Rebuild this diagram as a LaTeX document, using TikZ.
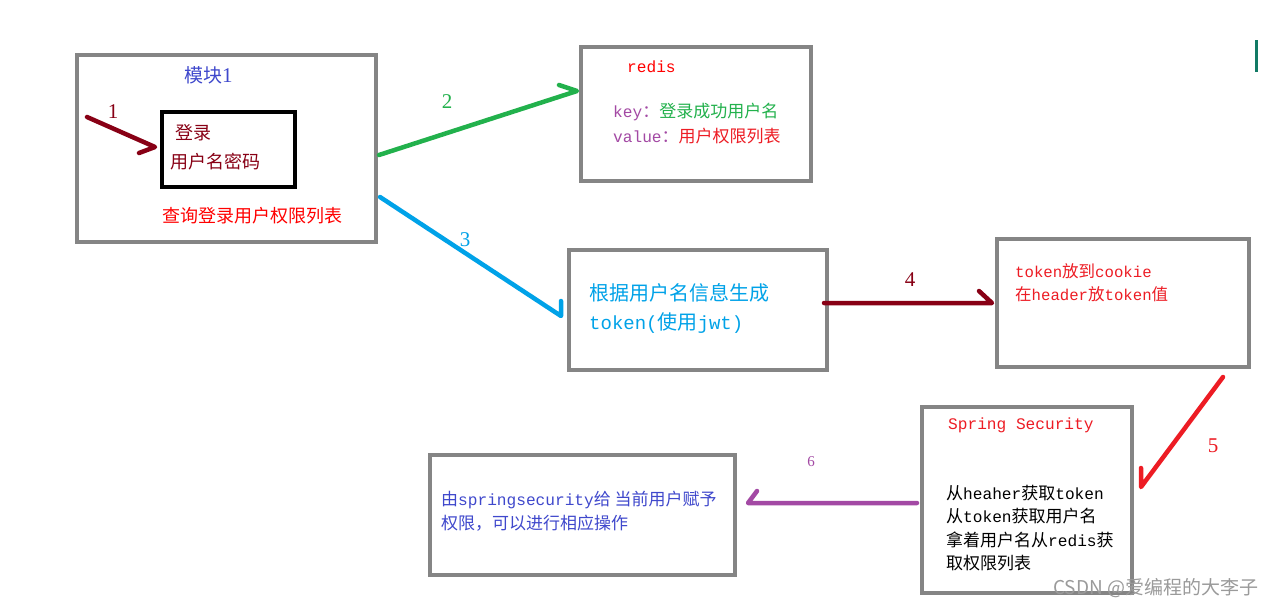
\documentclass[tikz,border=0pt]{standalone}
\usepackage{fontspec}
\setmainfont{Liberation Mono}[Scale=0.95]
\newfontfamily\zhfont{Noto Sans CJK SC}
\newfontfamily\numfont{Liberation Serif}
\newcommand\zh[1]{{\zhfont #1}}
\definecolor{boxgray}{HTML}{858585}
\definecolor{dred}{HTML}{880015}
\definecolor{dgreen}{HTML}{22B14C}
\definecolor{lblue}{HTML}{00A2E8}
\definecolor{bred}{HTML}{ED1C24}
\definecolor{purp}{HTML}{A349A4}
\definecolor{indigo}{HTML}{3F48CC}
\definecolor{teal2}{HTML}{117A65}
\definecolor{wmgray}{HTML}{9A9A9A}
\tikzset{
  gbox/.style={draw=boxgray, line width=4pt, inner sep=0pt},
  bbox/.style={draw=black, line width=4pt, inner sep=0pt},
  txt/.style={anchor=west, inner sep=0pt, font=\fontsize{17}{20}\selectfont},
  lbl/.style={inner sep=0pt, font=\numfont\fontsize{21}{22}\selectfont},
  arr/.style={line width=4.5pt, line cap=round, line join=round},
}
\begin{document}
\begin{tikzpicture}[x=1pt,y=-1pt]
\useasboundingbox[fill=white] (0,0) rectangle (1279,608);
% boxes
\node[gbox, minimum width=299pt, minimum height=187pt] (mod) at (226.5,148.5) {};
\node[bbox, minimum width=133pt, minimum height=75pt] (login) at (228.5,149.5) {};
\node[gbox, minimum width=230pt, minimum height=134pt] (redis) at (696,114) {};
\node[gbox, minimum width=258pt, minimum height=120pt] (jwt) at (698,310) {};
\node[gbox, minimum width=252pt, minimum height=128pt] (cookie) at (1123,303) {};
\node[gbox, minimum width=210pt, minimum height=186pt] (spring) at (1027,500) {};
\node[gbox, minimum width=305pt, minimum height=120pt] (result) at (582.5,515) {};
% module texts
\node[txt, text=indigo, font=\fontsize{19}{20}\selectfont] (modt) at (184,75) {\zh{模块}{\numfont\fontsize{21}{22}\selectfont 1}};
\node[txt, text=dred, font=\fontsize{18}{20}\selectfont] (l1) at (175,133) {\zh{登录}};
\node[txt, text=dred, font=\fontsize{18}{20}\selectfont] (l2) at (170,162) {\zh{用户名密码}};
\node[txt, text=red, font=\fontsize{18}{20}\selectfont] (q) at (162,216) {\zh{查询登录用户权限列表}};
% redis texts
\node[txt, text=red] (rt) at (627,67) {redis};
\node[txt] (k1) at (613,112) {\textcolor{purp}{key\zh{：}}\textcolor{dgreen}{\zh{登录成功用户名}}};
\node[txt] (k2) at (613,136) {\textcolor{purp}{value\zh{：}}\textcolor{bred}{\zh{用户权限列表}}};
% jwt texts
\node[txt, text=lblue, font=\fontsize{20}{22}\selectfont] (j1) at (589,293) {\zh{根据用户名信息生成}};
\node[txt, text=lblue, font=\fontsize{20}{22}\selectfont] (j2) at (589,323) {token(\zh{使用}jwt)};
% cookie texts
\node[txt, text=bred, font=\fontsize{16.5}{20}\selectfont] (c1) at (1015,271) {token\zh{放到}cookie};
\node[txt, text=bred, font=\fontsize{16.5}{20}\selectfont] (c2) at (1015,294) {\zh{在}header\zh{放}token\zh{值}};
% spring texts
\node[txt, text=bred] (s0) at (948,425) {Spring Security};
\node[txt] (s1) at (946,493) {\zh{从}heaher\zh{获取}token};
\node[txt] (s2) at (946,516) {\zh{从}token\zh{获取用户名}};
\node[txt] (s3) at (946,540) {\zh{拿着用户名从}redis\zh{获}};
\node[txt] (s4) at (946,563) {\zh{取权限列表}};
% result texts
\node[txt, text=indigo] (r1) at (441,500) {\zh{由}springsecurity\zh{给 当前用户赋予}};
\node[txt, text=indigo] (r2) at (441,523) {\zh{权限，可以进行相应操作}};
% arrow labels
\node[lbl, text=dred] (n1) at (113,112) {1};
\node[lbl, text=dgreen] (n2) at (447,102) {2};
\node[lbl, text=lblue] (n3) at (465,240) {3};
\node[lbl, text=dred] (n4) at (910,280) {4};
\node[lbl, text=bred] (n5) at (1213,446) {5};
\node[lbl, text=purp, font=\numfont\fontsize{15}{16}\selectfont] (n6) at (811,462) {6};
% arrow end points
\coordinate (a1s) at (87,117);
\coordinate (a1t) at (155,147);
\coordinate (a1b) at (139,153);
\coordinate (a2s) at (379,155);
\coordinate (a2t) at (577,91);
\coordinate (a2b) at (559,85);
\coordinate (a3s) at (380,197);
\coordinate (a3t) at (561,316);
\coordinate (a3b) at (561,301);
\coordinate (a4s) at (824,303);
\coordinate (a4t) at (992,303);
\coordinate (a4b) at (979,291);
\coordinate (a5s) at (1223,377);
\coordinate (a5t) at (1141,487);
\coordinate (a5b) at (1141,468);
\coordinate (a6s) at (917,503);
\coordinate (a6t) at (748,503);
\coordinate (a6b) at (757,491);
% arrows
\draw[arr, dred] (a1s) -- (a1t) -- (a1b);
\draw[arr, dgreen] (a2s) -- (a2t) -- (a2b);
\draw[arr, lblue] (a3s) -- (a3t) -- (a3b);
\draw[arr, dred] (a4s) -- (a4t) -- (a4b);
\draw[arr, bred] (a5s) -- (a5t) -- (a5b);
\draw[arr, purp] (a6s) -- (a6t) -- (a6b);
% small marks
\coordinate (tl1) at (1256,40);
\coordinate (tl2) at (1256,72);
\draw[teal2, line width=3pt] (tl1) -- (tl2);
% watermark
\node[txt, text=wmgray, font=\fontsize{19}{20}\selectfont] (wm) at (1053,588) {\zh{CSDN @爱编程的大李子}};
\end{tikzpicture}
\end{document}
